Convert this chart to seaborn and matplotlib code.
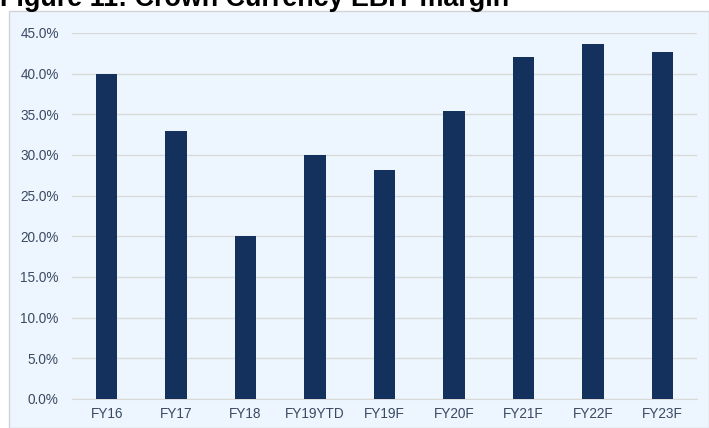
import matplotlib.pyplot as plt
import matplotlib.patches as patches
from matplotlib.ticker import FuncFormatter
import pandas as pd
import seaborn as sns

# Data
years = ['FY16', 'FY17', 'FY18', 'FY19YTD', 'FY19F', 'FY20F', 'FY21F', 'FY22F', 'FY23F']
ebit_margin = [39.9, 32.9, 20.0, 30.0, 28.2, 35.4, 42.1, 43.6, 42.7]

df = pd.DataFrame({'Year': years, 'EBIT margin': ebit_margin})

sns.set_style('white')
plt.rcParams['font.family'] = ['Liberation Sans', 'DejaVu Sans']

W, H = 709, 428
fig = plt.figure(figsize=(W / 100, H / 100), dpi=100)

# Light blue chart frame, drawn behind the axes
frame = patches.Rectangle((9 / W, 0), 1 - 9 / W, 1 - 11 / H, transform=fig.transFigure,
                          facecolor='#EDF6FE', edgecolor='#D0D4D9', linewidth=1.0, zorder=-5)
fig.patches.append(frame)

ax = fig.add_axes([72 / W, 1 - 399 / H, (697 - 72) / W, (399 - 33) / H])
ax.set_facecolor('none')
ax.set_zorder(2)

sns.barplot(ax=ax, data=df, x='Year', y='EBIT margin', color='#14305C', width=0.31,
            saturation=1, linewidth=0, zorder=3)

ax.set_ylim(0, 45)
ax.set_yticks(range(0, 46, 5))
ax.yaxis.set_major_formatter(FuncFormatter(lambda v, p: f'{v:.1f}%'))
ax.grid(axis='y', color='#D9D9D9', linewidth=1.0, zorder=0)
ax.set_axisbelow(True)
ax.set_xlabel('')
ax.set_ylabel('')
for s in ax.spines.values():
    s.set_visible(False)
ax.spines['bottom'].set_visible(True)
ax.spines['bottom'].set_color('#D9D9D9')
ax.tick_params(axis='both', length=0, labelsize=9.8, labelcolor='#3B4A63')
ax.tick_params(axis='y', pad=9.5)
ax.tick_params(axis='x', pad=6)

fig.text(0, 1 - 6 / H, 'Figure 11: Crown Currency EBIT margin', fontsize=19.4,
         fontweight='bold', color='black', va='baseline', ha='left')

fig.savefig('out.png', dpi=100)
